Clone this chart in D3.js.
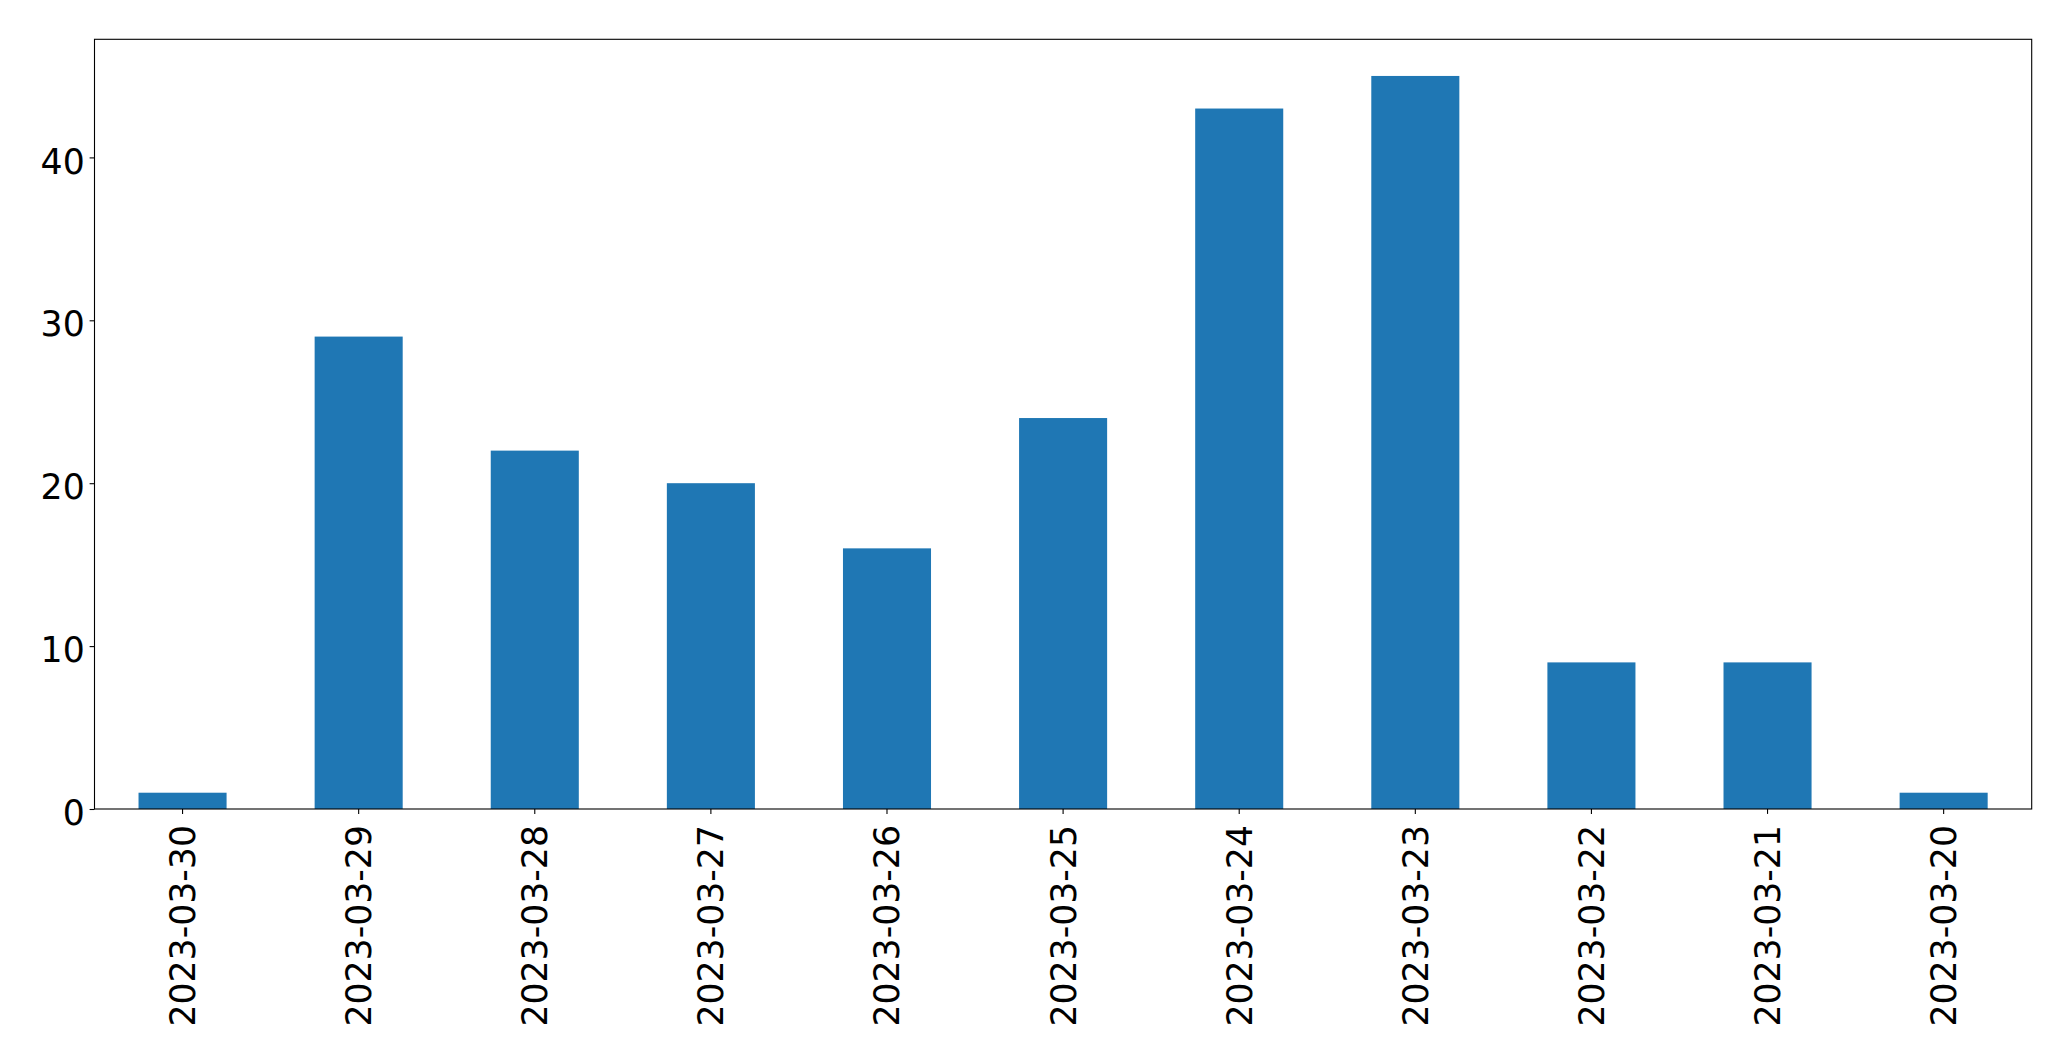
<!DOCTYPE html>
<html>
<head>
<meta charset="utf-8">
<script src="https://cdn.jsdelivr.net/npm/d3@7"></script>
<style>
  html, body { margin: 0; padding: 0; background: #fff; }
  svg { display: block; }
  text { font-family: "DejaVu Sans", sans-serif; fill: #000; }
</style>
</head>
<body>
<script>
const categories = ["2023-03-30","2023-03-29","2023-03-28","2023-03-27","2023-03-26","2023-03-25","2023-03-24","2023-03-23","2023-03-22","2023-03-21","2023-03-20"];
const counts = [1, 29, 22, 20, 16, 24, 43, 45, 9, 9, 1];
const yTicks = [0, 10, 20, 30, 40];

const W = 2071, H = 1061;
const mLeft = 94.5, mTop = 39.3, mRight = 2031.7, mBottom = 809;
const fontPx = 34.7;
const tickLen = 4.9, pad = 4.9;

const svg = d3.select("body").append("svg").attr("width", W).attr("height", H);

const x = d3.scaleBand().domain(categories).range([mLeft, mRight]).paddingInner(0.5).paddingOuter(0.25);
const y = d3.scaleLinear().domain([0, d3.max(counts) * 1.05]).range([mBottom, mTop]);

svg.append("g").selectAll("rect").data(categories).join("rect")
  .attr("x", d => x(d))
  .attr("width", x.bandwidth())
  .attr("y", (d, i) => y(counts[i]))
  .attr("height", (d, i) => y(0) - y(counts[i]))
  .attr("fill", "#1f77b4");

// Y axis
const yAxis = d3.axisLeft(y).tickValues(yTicks).tickSize(tickLen).tickPadding(pad).tickFormat(d3.format("d"));
const gy = svg.append("g").attr("transform", `translate(${mLeft},0)`).call(yAxis);
gy.select(".domain").remove();
gy.selectAll("line").attr("stroke", "#000").attr("stroke-width", 1.1);
gy.selectAll("text").style("font-size", fontPx + "px").attr("dy", "0.45em").attr("font-family", "DejaVu Sans");

// X axis
const xAxis = d3.axisBottom(x).tickSize(tickLen).tickPadding(pad);
const gx = svg.append("g").attr("transform", `translate(0,${mBottom})`).call(xAxis);
gx.select(".domain").remove();
gx.selectAll("line").attr("stroke", "#000").attr("stroke-width", 1.1);
gx.selectAll("text")
  .style("font-size", fontPx + "px")
  .attr("font-family", "DejaVu Sans")
  .attr("text-anchor", "end")
  .attr("y", 0).attr("x", 0)
  .attr("dy", "0.36em")
  .attr("transform", `translate(0,${825 - mBottom}) rotate(-90)`);

// Frame
svg.append("rect")
  .attr("x", mLeft).attr("y", mTop)
  .attr("width", mRight - mLeft).attr("height", mBottom - mTop)
  .attr("fill", "none").attr("stroke", "#000").attr("stroke-width", 1.1);
</script>
</body>
</html>
